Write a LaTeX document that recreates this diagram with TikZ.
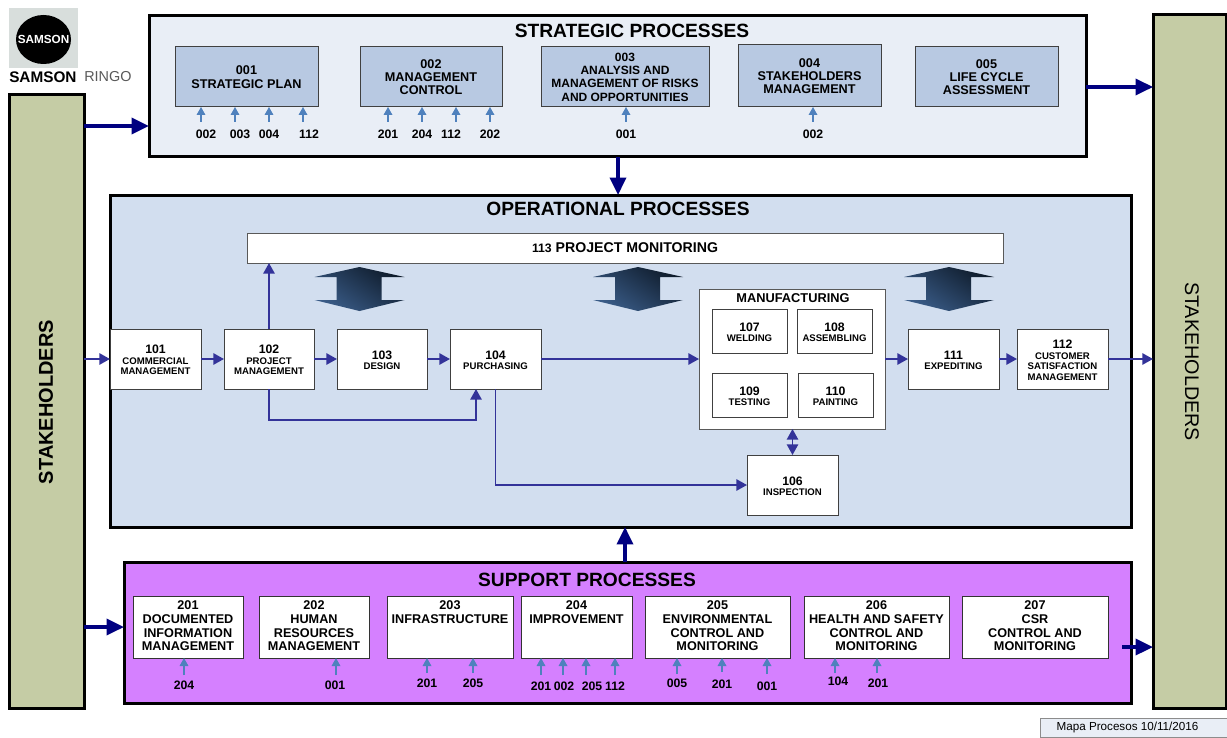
\documentclass[tikz,border=0pt]{standalone}
\usepackage{fontspec}
\setmainfont{Liberation Sans}
\usetikzlibrary{arrows.meta,calc}
\definecolor{stratbg}{HTML}{E9EEF6}
\definecolor{opbg}{HTML}{D2DEEF}
\definecolor{supbg}{HTML}{D580FF}
\definecolor{stakebg}{HTML}{C5CCA5}
\definecolor{stratbox}{HTML}{B8C9E2}
\definecolor{flowblue}{HTML}{333399}
\definecolor{navyline}{HTML}{000080}
\definecolor{refblue}{HTML}{4F81BD}
\definecolor{hollowdark}{HTML}{0F1C2C}
\definecolor{hollowmid}{HTML}{2F4F78}
\definecolor{hollowlight}{HTML}{3A5C88}
\definecolor{logobg}{HTML}{D8DEDC}
\newcommand{\fs}[2]{\fontsize{#1}{#2}\selectfont}
\newcommand{\bx}[7]{\node[#6,minimum width={(#4-#2)*0.75pt},minimum height={(#5-#3)*0.75pt}] (#1) at ({(#2+#4)/2},{(#3+#5)/2}) {#7};}
\newcommand{\rf}[7]{\coordinate (#4-t) at (#2,#3);
  \node[reflabel] (#4) at (#5,#6) {#7};
  \draw[refarrow] (#4-t) -- (#4-t |- #1.south);}
\newcommand{\hollowarrow}[1]{\shade[top color=hollowdark,middle color=hollowmid,bottom color=hollowlight,shading angle=-35]
  (#1,267) -- ({#1+45},277) -- ({#1+22},277) -- ({#1+22},300) -- ({#1+45},300) -- (#1,311)
  -- ({#1-45},300) -- ({#1-23},300) -- ({#1-23},277) -- ({#1-45},277) -- cycle;}
\tikzset{
  base/.style={inner sep=0pt,outer sep=0pt,align=center},
  outerbox/.style={base,draw=black,line width=2.25pt},
  stake/.style={outerbox,fill=stakebg},
  stratcell/.style={base,draw=black!75,line width=0.75pt,fill=stratbox,font=\fs{9.5}{10}\bfseries},
  opcell/.style={base,draw=black!75,line width=0.75pt,fill=white,font=\fs{7.2}{7.9}\bfseries},
  supcell/.style={base,draw=black!80,line width=0.75pt,fill=white,font=\fs{9.5}{10.4}\bfseries,execute at end node={\rule[-2pt]{0pt}{0pt}}},
  title/.style={inner sep=0pt,font=\fs{14.4}{16}\bfseries},
  reflabel/.style={inner sep=0pt,font=\fs{9.2}{10}\bfseries},
  refarrow/.style={draw=refblue,line width=0.9pt,-{Triangle[length=6pt,width=6.5pt]}},
  flow/.style={draw=flowblue,line width=1.3pt,-{Triangle[length=8pt,width=8.5pt]}},
  flowboth/.style={draw=flowblue,line width=1.3pt,{Triangle[length=8pt,width=8.5pt]}-{Triangle[length=8pt,width=8.5pt]}},
  mainflow/.style={draw=navyline,line width=2.6pt,-{Triangle[length=13pt,width=12pt]}},
}
\newcommand{\num}[1]{{\fs{9.2}{10.4}\bfseries\rule{0pt}{8pt}#1}}
\begin{document}
\begin{tikzpicture}[x=0.75pt,y=-0.75pt]
\useasboundingbox (0,0) rectangle (1227,738);
% logo
\fill[fill=logobg] (9,8) rectangle (78,68);
\fill[fill=black] (43.5,39.5) ellipse [x radius=27.5,y radius=24.5];
\node[inner sep=0pt,text=white,font=\fs{8.8}{10}\bfseries] (logo) at (43.5,39.5) {SAMSON};
\node[anchor=west,inner sep=0pt,font=\fs{11.5}{12}\bfseries] (lognamea) at (9,77) {SAMSON};
\node[anchor=west,inner sep=0pt,text=black!65,font=\fs{10.8}{12}] (lognameb) at (84,77) {RINGO};
% containers
\bx{sl}{9}{95}{84}{708}{stake}{}
\bx{sr}{1153}{15}{1226}{708}{stake}{}
\node[rotate=90,inner sep=0pt,font=\fs{15}{18}\bfseries] (slt) at (46,402) {STAKEHOLDERS};
\node[rotate=-90,inner sep=0pt,font=\fs{14.8}{18}] (srt) at (1192,361.5) {STAKEHOLDERS};
\bx{st}{149}{16}{1086}{157}{outerbox,fill=stratbg}{}
\bx{op}{110}{195}{1131}{527}{outerbox,fill=opbg}{}
\bx{su}{124}{562}{1131}{703}{outerbox,fill=supbg}{}
\node[title] (stt) at (632,31) {STRATEGIC PROCESSES};
\node[title] (opt) at (618,209) {OPERATIONAL PROCESSES};
\node[title] (sut) at (587,580) {SUPPORT PROCESSES};
% strategic cells
\bx{s1}{175}{47}{318}{107}{stratcell}{001\\STRATEGIC PLAN}
\bx{s2}{360}{47}{502}{107}{stratcell}{002\\MANAGEMENT\\CONTROL}
\bx{s3}{541}{47}{709}{107}{stratcell,font=\fs{9}{10}\bfseries}{003\\ANALYSIS AND\\MANAGEMENT OF RISKS\\AND OPPORTUNITIES}
\bx{s4}{738}{45}{881}{107}{stratcell}{004\\STAKEHOLDERS\\MANAGEMENT}
\bx{s5}{915}{47}{1058}{107}{stratcell}{005\\LIFE CYCLE\\ASSESSMENT}
\rf{s1}{201}{122}{ra}{206}{134}{002}
\rf{s1}{235}{122}{rb}{240}{134}{003}
\rf{s1}{269}{122}{rc}{269}{134}{004}
\rf{s1}{303}{122}{rd}{309}{134}{112}
\rf{s2}{388}{122}{re}{388}{134}{201}
\rf{s2}{422}{122}{rf}{422}{134}{204}
\rf{s2}{456}{122}{rg}{451}{134}{112}
\rf{s2}{490}{122}{rh}{490}{134}{202}
\rf{s3}{626}{122}{ri}{626}{134}{001}
\rf{s4}{813}{122}{rj}{813}{134}{002}
% operational cells
\bx{b113}{247}{233}{1003}{263}{base,draw=black!65,line width=0.75pt,fill=white,font=\fs{10.6}{10}\bfseries}{{\fs{9.2}{10}\bfseries 113} PROJECT MONITORING}
\hollowarrow{359.5}
\hollowarrow{638}
\hollowarrow{949}
\bx{b101}{110}{329}{201}{389}{opcell}{\num{101}\\COMMERCIAL\\MANAGEMENT}
\bx{b102}{224}{329}{314}{389}{opcell}{\num{102}\\PROJECT\\MANAGEMENT}
\bx{b103}{337}{329}{427}{389}{opcell}{\num{103}\\DESIGN}
\bx{b104}{450}{329}{541}{389}{opcell}{\num{104}\\PURCHASING}
\bx{mf}{699}{289}{885}{429}{base,draw=black!65,line width=0.75pt,fill=white}{}
\node[inner sep=0pt,font=\fs{9.6}{10}\bfseries] (mft) at (793,298) {MANUFACTURING};
\bx{b107}{712}{309}{787}{353}{opcell}{\num{107}\\WELDING}
\bx{b108}{797}{309}{872}{353}{opcell}{\num{108}\\ASSEMBLING}
\bx{b109}{712}{373}{787}{417}{opcell}{\num{109}\\TESTING}
\bx{b110}{798}{373}{873}{417}{opcell}{\num{110}\\PAINTING}
\bx{b106}{747}{455}{838}{515}{opcell}{\num{106}\\INSPECTION}
\bx{b111}{908}{329}{999}{389}{opcell}{\num{111}\\EXPEDITING}
\bx{b112}{1017}{329}{1108}{389}{opcell}{\num{112}\\CUSTOMER\\SATISFACTION\\MANAGEMENT}
% flows
\draw[flow] (sl.east |- b101.west) -- (b101.west);
\draw[flow] (b101) -- (b102);
\draw[flow] (b102) -- (b103);
\draw[flow] (b103) -- (b104);
\draw[flow] (b104) -- (b104 -| mf.west);
\draw[flow] (b111 -| mf.east) -- (b111);
\draw[flow] (b111) -- (b112);
\draw[flow] (b112) -- (b112 -| sr.west);
\draw[flow] (b102.north) -- (b102.north |- b113.south);
\coordinate (j1) at (476,420);
\draw[flow] (b102.south) |- (j1) -- (j1 |- b104.south);
\draw[flow] (b104.south) |- (b106.west);
\draw[flowboth] (b106.north |- mf.south) -- (b106.north);
% support cells
\bx{c1}{133}{596}{243}{658}{supcell}{201\\DOCUMENTED\\INFORMATION\\MANAGEMENT}
\bx{c2}{259}{596}{369}{658}{supcell}{202\\HUMAN\\RESOURCES\\MANAGEMENT}
\bx{c3}{387}{596}{513}{658}{supcell}{203\\INFRASTRUCTURE\\ ~\\ ~}
\bx{c4}{521}{596}{632}{658}{supcell}{204\\IMPROVEMENT\\ ~\\ ~}
\bx{c5}{645}{596}{790}{658}{supcell}{205\\ENVIRONMENTAL\\CONTROL AND\\MONITORING}
\bx{c6}{804}{596}{949}{658}{supcell}{206\\HEALTH AND SAFETY\\CONTROL AND\\MONITORING}
\bx{c7}{962}{596}{1108}{658}{supcell}{207\\CSR\\CONTROL AND\\MONITORING}
\rf{c1}{184}{675}{ta}{184}{685}{204}
\rf{c2}{336}{675}{tb}{335}{685}{001}
\rf{c3}{427}{673}{tc}{427}{683}{201}
\rf{c3}{473}{673}{td}{473}{683}{205}
\rf{c4}{541}{675}{te}{541}{686}{201}
\rf{c4}{563}{675}{tf}{564}{686}{002}
\rf{c4}{586}{675}{tg}{592}{686}{205}
\rf{c4}{615}{675}{th}{615}{686}{112}
\rf{c5}{677}{674}{ti}{677}{683}{005}
\rf{c5}{722}{672}{tj}{722}{684}{201}
\rf{c5}{767}{674}{tk}{767}{686}{001}
\rf{c6}{835}{673}{tl}{838}{681}{104}
\rf{c6}{877}{673}{tm}{878}{683}{201}
% main flows
\coordinate (m1) at (0,126);
\coordinate (m2) at (0,87);
\coordinate (m3) at (618,0);
\coordinate (m4) at (625,0);
\coordinate (m5) at (0,627);
\coordinate (m6) at (1122,647);
\draw[mainflow] (sl.east |- m1) -- (st.west |- m1);
\draw[mainflow] (st.east |- m2) -- (sr.west |- m2);
\draw[mainflow] (st.south -| m3) -- (op.north -| m3);
\draw[mainflow] (su.north -| m4) -- (op.south -| m4);
\draw[mainflow] (sl.east |- m5) -- (su.west |- m5);
\draw[mainflow] (m6) -- (m6 -| sr.west);
% stamp
\bx{stamp}{1040}{718}{1227}{737}{base,draw=black!45,line width=0.75pt,fill=stratbg,font=\fs{8.75}{10}}{\mbox{Mapa Procesos 10/11/2016\hspace{9pt}}}
\end{tikzpicture}
\end{document}
